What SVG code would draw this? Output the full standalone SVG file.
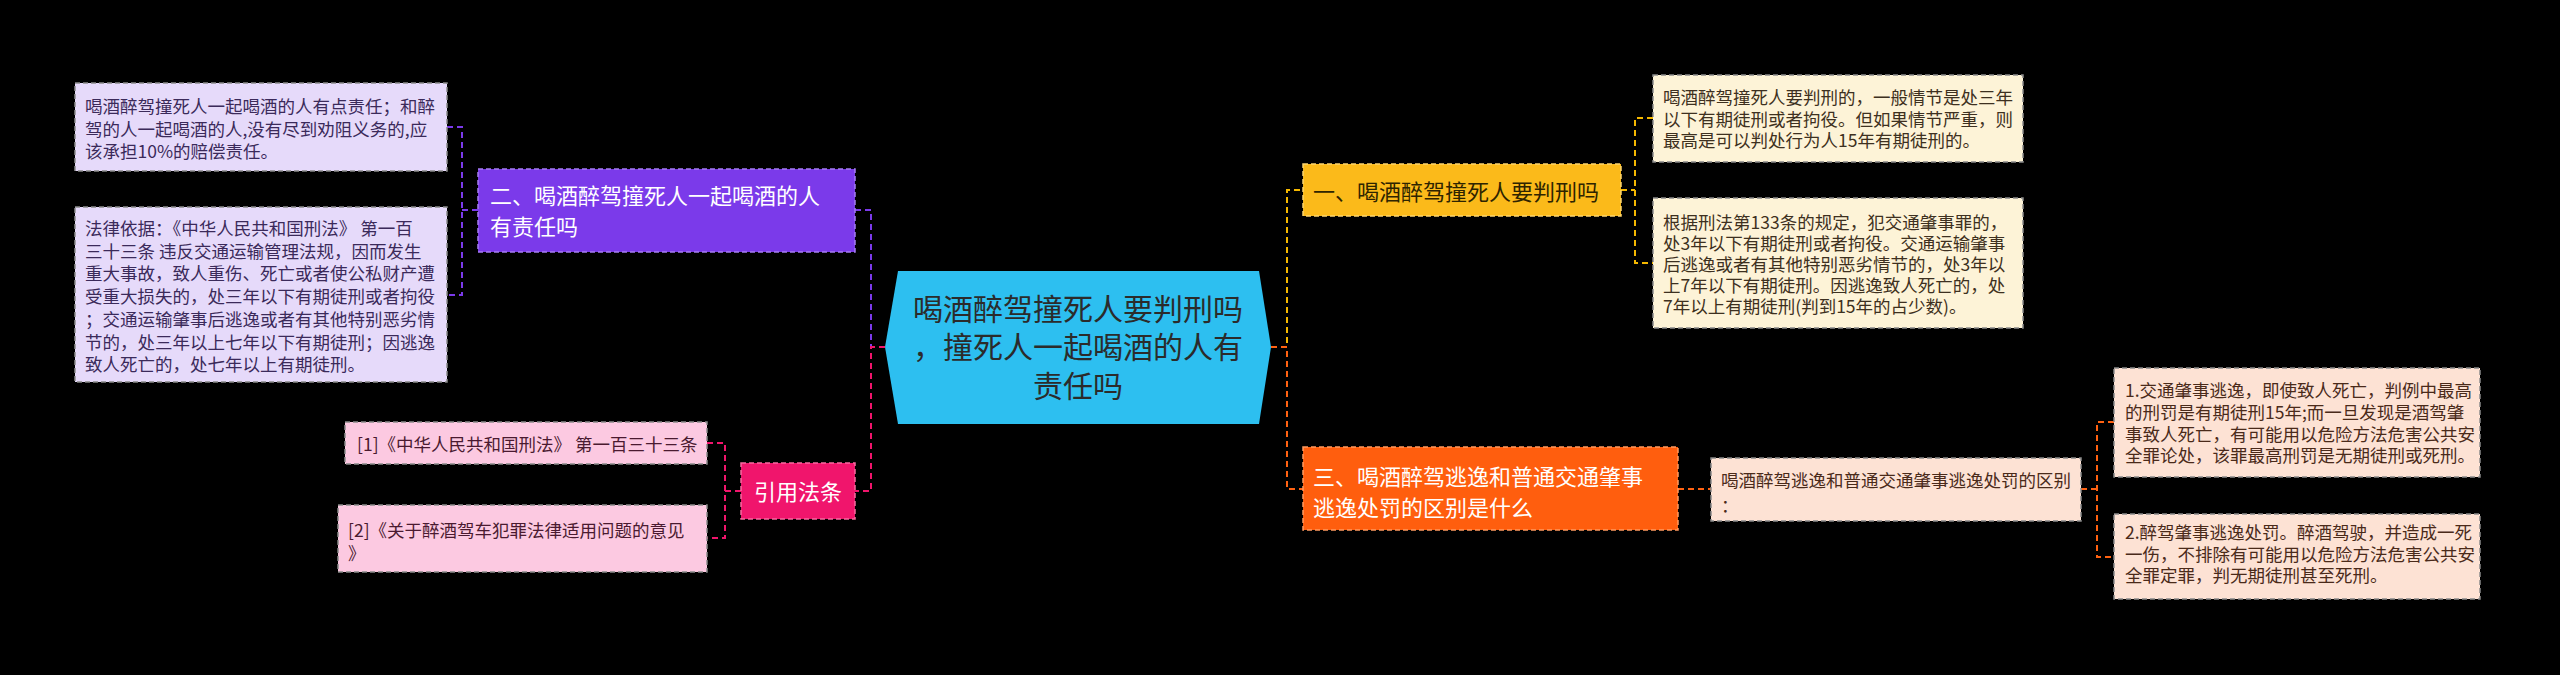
<svg xmlns="http://www.w3.org/2000/svg" width="2560" height="675" viewBox="0 0 2560 675">
<style>
text{font-family:"Noto Sans CJK SC","Microsoft YaHei",sans-serif;}
.leaf{font-size:17.5px;}
.main{font-size:22px;}
.conn{fill:none;stroke-width:2;stroke-dasharray:6 4;}
.box{stroke-width:1.5;stroke-dasharray:5 3;}
</style>
<rect x="0" y="0" width="2560" height="675" fill="#000"/>
<g id="connectors">
<path class="conn" stroke="#7b3aea" d="M447,127 H462 V295 H447 M462,210 H478"/>
<path class="conn" stroke="#7b3aea" d="M855,210 H871 V347"/>
<path class="conn" stroke="#f0156c" d="M885,347 H871 V491 H855"/>
<path class="conn" stroke="#f0156c" d="M741,491 H725 M707,443 H725 V538 H707"/>
<path class="conn" stroke="#f5b800" d="M1271,347 H1287 V190 H1303"/>
<path class="conn" stroke="#f5b800" d="M1621,190 H1635 M1653,118 H1635 V263 H1653"/>
<path class="conn" stroke="#ff6212" d="M1271,347 H1287 V489 H1303"/>
<path class="conn" stroke="#ff6212" d="M1678,489 H1711"/>
<path class="conn" stroke="#ff6212" d="M2081,489 H2097 M2114,422 H2097 V557 H2114"/>
</g>
<g id="center">
<polygon points="885,347 898,271 1259,271 1271,347 1259,424 898,424" fill="#2dbff0"/>
<text font-size="30" fill="#2b2b2b" text-anchor="middle"><tspan x="1078" y="320">喝酒醉驾撞死人要判刑吗</tspan><tspan x="1078" y="358">，撞死人一起喝酒的人有</tspan><tspan x="1078" y="397">责任吗</tspan></text>
</g>
<g id="n2">
<rect class="box" x="478" y="169" width="377" height="83" fill="#7b3aea" stroke="#a57cf2"/>
<text class="main" fill="#fff"><tspan x="490" y="204">二、喝酒醉驾撞死人一起喝酒的人</tspan><tspan x="490" y="235">有责任吗</tspan></text>
</g>
<g id="n2a">
<rect class="box" x="75" y="83" width="372" height="88" fill="#e6dafa" stroke="#8a8a8a"/>
<text class="leaf" fill="#3b2a5a"><tspan x="85" y="113">喝酒醉驾撞死人一起喝酒的人有点责任；和醉</tspan><tspan x="85" y="135.5">驾的人一起喝酒的人,没有尽到劝阻义务的,应</tspan><tspan x="85" y="158">该承担10%的赔偿责任。</tspan></text>
</g>
<g id="n2b">
<rect class="box" x="75" y="207" width="372" height="175" fill="#e6dafa" stroke="#8a8a8a"/>
<text class="leaf" fill="#3b2a5a"><tspan x="85" y="235">法律依据：《中华人民共和国刑法》 第一百</tspan><tspan x="85" y="257.7">三十三条 违反交通运输管理法规，因而发生</tspan><tspan x="85" y="280.4">重大事故，致人重伤、死亡或者使公私财产遭</tspan><tspan x="85" y="303.1">受重大损失的，处三年以下有期徒刑或者拘役</tspan><tspan x="85" y="325.8">；交通运输肇事后逃逸或者有其他特别恶劣情</tspan><tspan x="85" y="348.5">节的，处三年以上七年以下有期徒刑；因逃逸</tspan><tspan x="85" y="371.2">致人死亡的，处七年以上有期徒刑。</tspan></text>
</g>
<g id="ref">
<rect class="box" x="741" y="463" width="114" height="56" fill="#f0156c" stroke="#f76aa0"/>
<text class="main" x="798" y="500" fill="#fff" text-anchor="middle">引用法条</text>
</g>
<g id="ref1">
<rect class="box" x="345" y="422" width="362" height="42" fill="#fcc9e1" stroke="#8a8a8a"/>
<text class="leaf" x="357" y="451" fill="#4a1a30">[1]《中华人民共和国刑法》 第一百三十三条</text>
</g>
<g id="ref2">
<rect class="box" x="338" y="505" width="369" height="67" fill="#fcc9e1" stroke="#8a8a8a"/>
<text class="leaf" fill="#4a1a30"><tspan x="348" y="537">[2]《关于醉酒驾车犯罪法律适用问题的意见</tspan><tspan x="348" y="560">》</tspan></text>
</g>
<g id="n1">
<rect class="box" x="1303" y="164" width="318" height="52" fill="#fbba1a" stroke="#fdd56e"/>
<text class="main" x="1313" y="200" fill="#2e2400">一、喝酒醉驾撞死人要判刑吗</text>
</g>
<g id="n1a">
<rect class="box" x="1653" y="75" width="370" height="87" fill="#fdf3d7" stroke="#8a8a8a"/>
<text class="leaf" fill="#3d3020"><tspan x="1663" y="104">喝酒醉驾撞死人要判刑的，一般情节是处三年</tspan><tspan x="1663" y="125.5">以下有期徒刑或者拘役。但如果情节严重，则</tspan><tspan x="1663" y="147">最高是可以判处行为人15年有期徒刑的。</tspan></text>
</g>
<g id="n1b">
<rect class="box" x="1653" y="198" width="370" height="130" fill="#fdf3d7" stroke="#8a8a8a"/>
<text class="leaf" fill="#3d3020"><tspan x="1663" y="229">根据刑法第133条的规定，犯交通肇事罪的，</tspan><tspan x="1663" y="250">处3年以下有期徒刑或者拘役。交通运输肇事</tspan><tspan x="1663" y="271">后逃逸或者有其他特别恶劣情节的，处3年以</tspan><tspan x="1663" y="292">上7年以下有期徒刑。因逃逸致人死亡的，处</tspan><tspan x="1663" y="313">7年以上有期徒刑(判到15年的占少数)。</tspan></text>
</g>
<g id="n3">
<rect class="box" x="1303" y="447" width="375" height="83" fill="#ff5e0e" stroke="#ff9a60"/>
<text class="main" fill="#fff"><tspan x="1313" y="485">三、喝酒醉驾逃逸和普通交通肇事</tspan><tspan x="1313" y="516">逃逸处罚的区别是什么</tspan></text>
</g>
<g id="n3a">
<rect class="box" x="1711" y="458" width="370" height="63" fill="#fde2d4" stroke="#8a8a8a"/>
<text class="leaf" fill="#4a2a1a"><tspan x="1721" y="487">喝酒醉驾逃逸和普通交通肇事逃逸处罚的区别</tspan><tspan x="1721" y="512">：</tspan></text>
</g>
<g id="n3a1">
<rect class="box" x="2114" y="368" width="366" height="109" fill="#fde2d4" stroke="#8a8a8a"/>
<text class="leaf" fill="#4a2a1a"><tspan x="2125" y="397">1.交通肇事逃逸，即使致人死亡，判例中最高</tspan><tspan x="2125" y="419">的刑罚是有期徒刑15年;而一旦发现是酒驾肇</tspan><tspan x="2125" y="440.5">事致人死亡，有可能用以危险方法危害公共安</tspan><tspan x="2125" y="462">全罪论处，该罪最高刑罚是无期徒刑或死刑。</tspan></text>
</g>
<g id="n3a2">
<rect class="box" x="2114" y="514" width="366" height="85" fill="#fde2d4" stroke="#8a8a8a"/>
<text class="leaf" fill="#4a2a1a"><tspan x="2125" y="539">2.醉驾肇事逃逸处罚。醉酒驾驶，并造成一死</tspan><tspan x="2125" y="560.5">一伤，不排除有可能用以危险方法危害公共安</tspan><tspan x="2125" y="582">全罪定罪，判无期徒刑甚至死刑。</tspan></text>
</g>
</svg>
